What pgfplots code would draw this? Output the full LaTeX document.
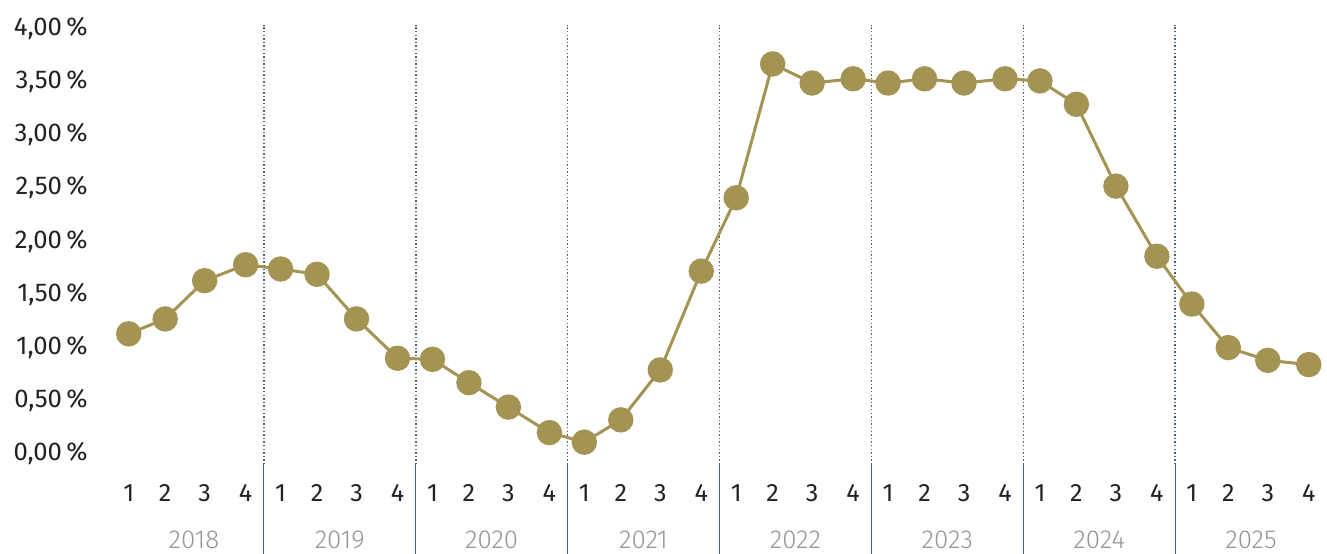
\documentclass[border=0pt]{standalone}
\usepackage{fontspec}
\setmainfont{Fira Sans}
\newfontfamily\lightfont{Fira Sans Light}
\usepackage{pgfplots}
\pgfplotsset{compat=1.18}
\definecolor{linegold}{RGB}{164,148,84}
\definecolor{sepcol}{RGB}{78,98,112}
\definecolor{txt}{RGB}{34,34,34}
\definecolor{yeargray}{RGB}{150,150,150}
\begin{document}
\begin{tikzpicture}
\useasboundingbox (-56bp,-44.3bp) rectangle (607.5bp,232.24bp);
\begin{axis}[
  scale only axis,
  width=607.5bp, height=219.94bp,
  xmin=0, xmax=8,
  ymin=-0.12, ymax=4.02,
  clip=false,
  axis line style={draw=none},
  tick style={draw=none},
  ytick={0,0.5,1,1.5,2,2.5,3,3.5,4},
  /pgf/number format/assume math mode=true,
  yticklabel={\pgfmathprintnumber[fixed,fixed zerofill,precision=2,use comma]{\tick}\,\%},
  yticklabel style={anchor=base east, inner sep=0pt, xshift=-12bp, yshift=-4.4bp, font=\fontsize{12.9}{14}\selectfont, text=txt},
  xtick={0.11,0.35,0.61,0.88,1.11,1.35,1.61,1.88,2.11,2.35,2.61,2.88,3.11,3.35,3.61,3.88,4.11,4.35,4.61,4.88,5.11,5.35,5.61,5.88,6.11,6.35,6.61,6.88,7.11,7.35,7.61,7.88},
  xticklabels={1,2,3,4,1,2,3,4,1,2,3,4,1,2,3,4,1,2,3,4,1,2,3,4,1,2,3,4,1,2,3,4},
  xticklabel style={anchor=base, inner sep=0pt, yshift=-18.5bp, font=\fontsize{12.6}{14}\selectfont, text=txt},
  extra x ticks={0.54,1.5,2.5,3.5,4.5,5.5,6.5,7.5},
  extra x tick labels={2018,2019,2020,2021,2022,2023,2024,2025},
  extra x tick style={xticklabel style={yshift=-23.3bp, font=\lightfont\fontsize{13}{14}\selectfont, text=yeargray}},
]
\pgfplotsinvokeforeach{1,2,3,4,5,6,7}{
  \draw[sepcol, line width=0.75bp, dash pattern=on 0.75bp off 1.05bp] (axis cs:#1,-0.12) -- (axis cs:#1,4.02);
  \draw[sepcol, line width=0.6bp] (axis cs:#1,-0.12) -- ++(0,-52bp);
}
% x = year - 2018 + position within the year
\addplot[linegold, line width=1.5bp, mark=*, mark size=5.6bp, mark options={fill=linegold, draw=none}] table {
x y
0.11 1.11
0.35 1.25
0.61 1.61
0.88 1.76
1.11 1.72
1.35 1.67
1.61 1.25
1.88 0.88
2.11 0.87
2.35 0.65
2.61 0.42
2.88 0.18
3.11 0.09
3.35 0.30
3.61 0.77
3.88 1.70
4.11 2.39
4.35 3.65
4.61 3.47
4.88 3.51
5.11 3.47
5.35 3.51
5.61 3.47
5.88 3.51
6.11 3.49
6.35 3.27
6.61 2.50
6.88 1.84
7.11 1.39
7.35 0.98
7.61 0.86
7.88 0.82
};
\end{axis}
\end{tikzpicture}
\end{document}
